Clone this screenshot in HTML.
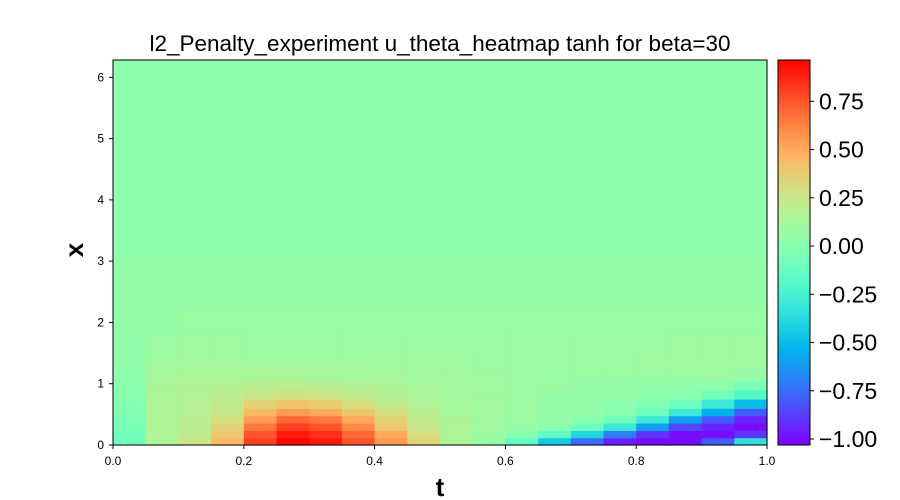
<!DOCTYPE html>
<html><head><meta charset="utf-8"><style>
body{margin:0;background:#fff;}
svg{display:block;font-family:"Liberation Sans","DejaVu Sans",sans-serif;}
</style></head><body>
<svg id="chart" width="900" height="500" viewBox="0 0 900 500">
<defs><linearGradient id="cbgrad" x1="0" y1="1" x2="0" y2="0"></linearGradient></defs>
<text x="440" y="51" text-anchor="middle" font-size="22.5" fill="#000">l2_Penalty_experiment u_theta_heatmap tanh for beta=30</text>
<g id="cells"></g>
<rect x="113" y="60" width="654" height="385" fill="none" stroke="#000" stroke-width="1"/>
<g id="xticks"></g>
<g id="yticks"></g>
<text x="440" y="496" text-anchor="middle" font-size="26" font-weight="bold">t</text>
<text transform="translate(83,250) rotate(-90)" text-anchor="middle" font-size="26" font-weight="bold">x</text>
<rect x="778" y="60" width="32" height="385" fill="url(#cbgrad)" stroke="#000" stroke-width="1"/>
<g id="cbticks"></g>
</svg>
<script>
const tCenters=[0.025,0.075,0.125,0.175,0.225,0.275,0.325,0.375,0.425,0.475,0.525,0.575,0.625,0.675,0.725,0.775,0.825,0.875,0.925,0.975];
const xEdges=[0,0.12,0.24,0.36,0.48,0.6,0.75,0.9,1.05,1.25,1.45,1.8,2.3,3,6.283];
const uRow0=[-0.1,0.15,0.25,0.45,0.8,0.95,0.9,0.75,0.55,0.35,0.15,0.05,-0.15,-0.45,-0.75,-0.95,-1.0,-1.0,-0.8,-0.35];
const uRow1=[-0.08,0.15,0.22,0.4,0.75,0.9,0.85,0.7,0.5,0.3,0.15,0.08,0.0,-0.15,-0.4,-0.7,-0.9,-1.0,-1.0,-0.9];
const uRow2=[-0.06,0.15,0.2,0.35,0.65,0.8,0.75,0.6,0.4,0.25,0.15,0.1,0.05,0.0,-0.1,-0.3,-0.6,-0.85,-0.95,-1.0];
const uRow3=[-0.05,0.15,0.2,0.3,0.55,0.7,0.65,0.5,0.35,0.22,0.15,0.1,0.08,0.05,0.0,-0.1,-0.3,-0.6,-0.8,-0.95];
const uRow4=[-0.03,0.15,0.18,0.25,0.45,0.55,0.5,0.4,0.3,0.2,0.12,0.1,0.08,0.06,0.03,0.0,-0.1,-0.3,-0.55,-0.8];
const uRow5=[-0.02,0.15,0.18,0.22,0.35,0.4,0.38,0.3,0.22,0.16,0.12,0.1,0.08,0.06,0.05,0.02,-0.03,-0.1,-0.3,-0.5];
const uRow6=[0.0,0.15,0.17,0.2,0.25,0.28,0.26,0.22,0.18,0.14,0.11,0.1,0.08,0.06,0.05,0.04,0.02,0.0,-0.08,-0.2];
const uRow7=[0.02,0.14,0.16,0.17,0.19,0.2,0.19,0.17,0.15,0.12,0.1,0.09,0.08,0.07,0.06,0.05,0.05,0.04,0.02,-0.05];
const uRow8=[0.03,0.12,0.14,0.14,0.14,0.14,0.13,0.12,0.12,0.1,0.1,0.09,0.08,0.07,0.07,0.07,0.08,0.08,0.08,0.06];
const uRow9=[0.04,0.1,0.11,0.11,0.1,0.1,0.1,0.1,0.09,0.09,0.09,0.08,0.08,0.08,0.08,0.08,0.09,0.1,0.1,0.1];
const uRow10=[0.04,0.08,0.09,0.09,0.08,0.08,0.08,0.08,0.08,0.08,0.08,0.08,0.08,0.08,0.08,0.08,0.08,0.09,0.09,0.09];
const uRow11=[0.05,0.06,0.07,0.07,0.07,0.07,0.07,0.07,0.07,0.07,0.07,0.07,0.07,0.07,0.07,0.07,0.07,0.07,0.07,0.07];
const uRow12=[0.05,0.05,0.05,0.05,0.05,0.05,0.05,0.05,0.05,0.05,0.05,0.05,0.05,0.05,0.05,0.05,0.05,0.05,0.05,0.05];
const uRow13=[0.03,0.03,0.03,0.03,0.03,0.03,0.03,0.03,0.03,0.03,0.03,0.03,0.03,0.03,0.03,0.03,0.03,0.03,0.03,0.03];
const tTicks=[0,0.2,0.4,0.6,0.8,1.0];
const tTickLabels=["0.0","0.2","0.4","0.6","0.8","1.0"];
const xTicks=[0,1,2,3,4,5,6];
const cbTicks=[0.75,0.5,0.25,0,-0.25,-0.5,-0.75,-1.0];
const cbTickLabels=["0.75","0.50","0.25","0.00","\u22120.25","\u22120.50","\u22120.75","\u22121.00"];
const vmin=-1.031, vmax=0.964;

const rows=[uRow0,uRow1,uRow2,uRow3,uRow4,uRow5,uRow6,uRow7,uRow8,uRow9,uRow10,uRow11,uRow12,uRow13];
const NS="http://www.w3.org/2000/svg";
const tScale=t=>113+t*654;
const xScale=x=>445-x/6.283*385;
const cbScale=v=>445-(v-vmin)/(vmax-vmin)*385;
function rainbow(v){
  const n=Math.max(0,Math.min(1,(v-vmin)/(vmax-vmin)));
  const r=Math.min(1,Math.abs(2*n-0.5)), g=Math.sin(Math.PI*n), b=Math.cos(Math.PI*n/2);
  return `rgb(${Math.round(r*255)},${Math.round(g*255)},${Math.round(b*255)})`;
}
const cells=document.getElementById('cells');
const dt=tCenters[1]-tCenters[0];
rows.forEach((row,ri)=>{
  row.forEach((v,ci)=>{
    const r=document.createElementNS(NS,'rect');
    const x0=tScale(tCenters[ci]-dt/2), x1=tScale(tCenters[ci]+dt/2);
    const y0=xScale(xEdges[ri+1]), y1=xScale(xEdges[ri]);
    r.setAttribute('x',x0);r.setAttribute('y',y0);
    r.setAttribute('width',x1-x0+0.6);r.setAttribute('height',y1-y0+0.6);
    r.setAttribute('fill',rainbow(v));
    
    
    cells.appendChild(r);
  });
});
const xt=document.getElementById('xticks');
tTicks.forEach((t,i)=>{
  const l=document.createElementNS(NS,'line');
  l.setAttribute('x1',tScale(t));l.setAttribute('x2',tScale(t));l.setAttribute('y1',445);l.setAttribute('y2',449);l.setAttribute('stroke','#000');
  
  
  xt.appendChild(l);
  const tx=document.createElementNS(NS,'text');
  tx.setAttribute('x',tScale(t));tx.setAttribute('y',465);tx.setAttribute('text-anchor','middle');tx.setAttribute('font-size','12');
  tx.textContent=tTickLabels[i];
  
  
  xt.appendChild(tx);
});
const yt=document.getElementById('yticks');
xTicks.forEach(x=>{
  const l=document.createElementNS(NS,'line');
  l.setAttribute('x1',109);l.setAttribute('x2',113);l.setAttribute('y1',xScale(x));l.setAttribute('y2',xScale(x));l.setAttribute('stroke','#000');
  
  
  yt.appendChild(l);
  const tx=document.createElementNS(NS,'text');
  tx.setAttribute('x',104);tx.setAttribute('y',xScale(x)+4);tx.setAttribute('text-anchor','end');tx.setAttribute('font-size','12');
  tx.textContent=String(x);
  
  
  yt.appendChild(tx);
});
const grad=document.getElementById('cbgrad');
for(let i=0;i<=40;i++){
  const v=vmin+(vmax-vmin)*i/40;
  const s=document.createElementNS(NS,'stop');
  s.setAttribute('offset',(i/40*100)+'%');s.setAttribute('stop-color',rainbow(v));
  grad.appendChild(s);
}
const cb=document.getElementById('cbticks');
cbTicks.forEach((v,i)=>{
  const l=document.createElementNS(NS,'line');
  l.setAttribute('x1',810);l.setAttribute('x2',814);l.setAttribute('y1',cbScale(v));l.setAttribute('y2',cbScale(v));l.setAttribute('stroke','#000');
  
  
  cb.appendChild(l);
  const tx=document.createElementNS(NS,'text');
  tx.setAttribute('x',819);tx.setAttribute('y',cbScale(v)+8);tx.setAttribute('font-size','23');
  tx.textContent=cbTickLabels[i];
  
  
  cb.appendChild(tx);
});
</script>
</body></html>
